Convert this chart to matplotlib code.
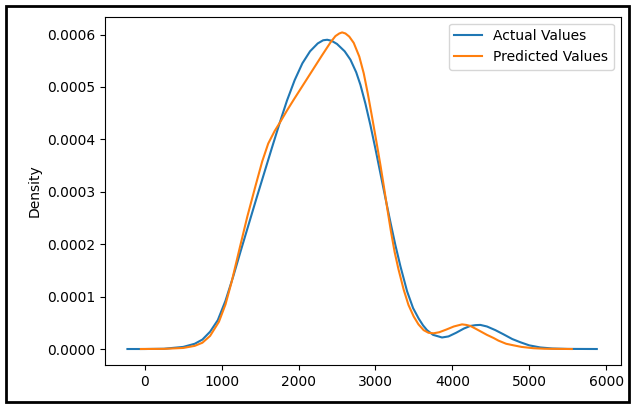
import matplotlib.pyplot as plt
from matplotlib.patches import Rectangle

# density curves (density in units of 1e-4)
actual_x = [-225, 0, 250, 500, 650, 750, 850, 950, 1050, 1150, 1250, 1350, 1450,
            1550, 1650, 1750, 1850, 1950, 2050, 2150, 2250, 2320, 2373, 2430, 2500,
            2600, 2675, 2750, 2805, 2870, 2935, 3000, 3065, 3130, 3195, 3260, 3325,
            3412, 3490, 3563, 3620, 3671, 3750, 3866, 3950, 4050, 4150, 4234, 4300,
            4364, 4450, 4560, 4666, 4780, 4883, 5000, 5143, 5300, 5500, 5879]
actual_y = [0, 0, 0.005, 0.04, 0.10, 0.18, 0.33, 0.55, 0.92, 1.38, 1.88, 2.37, 2.86,
            3.34, 3.82, 4.29, 4.74, 5.13, 5.45, 5.68, 5.83, 5.89, 5.90, 5.88, 5.82,
            5.68, 5.52, 5.28, 5.04, 4.68, 4.27, 3.82, 3.35, 2.88, 2.42, 1.98, 1.58,
            1.10, 0.78, 0.58, 0.45, 0.36, 0.27, 0.22, 0.24, 0.31, 0.39, 0.44, 0.455,
            0.46, 0.43, 0.36, 0.28, 0.19, 0.13, 0.07, 0.03, 0.01, 0.002, 0]

pred_x = [-50, 250, 500, 650, 750, 850, 965, 1050, 1130, 1234, 1333, 1442, 1528,
          1606, 1690, 1766, 1850, 1939, 2026, 2100, 2200, 2300, 2416, 2480, 2530,
          2567, 2610, 2660, 2718, 2790, 2848, 2900, 2957, 3010, 3065, 3110, 3152,
          3200, 3250, 3300, 3368, 3430, 3498, 3560, 3627, 3690, 3757, 3830, 3920,
          4020, 4126, 4180, 4234, 4300, 4400, 4450, 4537, 4600, 4700, 4797, 4900,
          5056, 5200, 5554]
pred_y = [0, 0.003, 0.02, 0.06, 0.12, 0.25, 0.52, 0.85, 1.28, 1.92, 2.52, 3.12, 3.58,
          3.92, 4.16, 4.34, 4.55, 4.76, 4.96, 5.13, 5.36, 5.59, 5.85, 5.97, 6.02,
          6.04, 6.02, 5.96, 5.84, 5.58, 5.26, 4.88, 4.42, 3.98, 3.51, 3.10, 2.70,
          2.26, 1.85, 1.52, 1.13, 0.84, 0.62, 0.47, 0.36, 0.31, 0.30, 0.32, 0.37,
          0.43, 0.47, 0.46, 0.44, 0.39, 0.31, 0.27, 0.21, 0.16, 0.10, 0.07, 0.04,
          0.015, 0.005, 0]

fig = plt.figure(figsize=(6.31, 4.07), dpi=100)
ax = fig.add_axes([0.166, 0.1032, 0.8177, 0.8558])

ax.plot(actual_x, [v * 1e-4 for v in actual_y], color='#1f77b4', lw=1.5, label='Actual Values')
ax.plot(pred_x, [v * 1e-4 for v in pred_y], color='#ff7f0e', lw=1.5, label='Predicted Values')

ax.set_xlim(-520, 6190)
ax.set_ylim(-0.0000305, 0.000634)
ax.set_xticks([0, 1000, 2000, 3000, 4000, 5000, 6000])
ax.set_yticks([0, 0.0001, 0.0002, 0.0003, 0.0004, 0.0005, 0.0006])
ax.set_yticklabels(['0.0000', '0.0001', '0.0002', '0.0003', '0.0004', '0.0005', '0.0006'])
ax.set_ylabel('Density')
ax.legend(loc='upper right')

# black frame around the whole screenshot
fig.patches.append(Rectangle((6 / 631, 5 / 407), 623 / 631, 396 / 407,
                             transform=fig.transFigure, fill=False,
                             edgecolor='black', lw=2.0))

fig.savefig('out.png', dpi=100)
